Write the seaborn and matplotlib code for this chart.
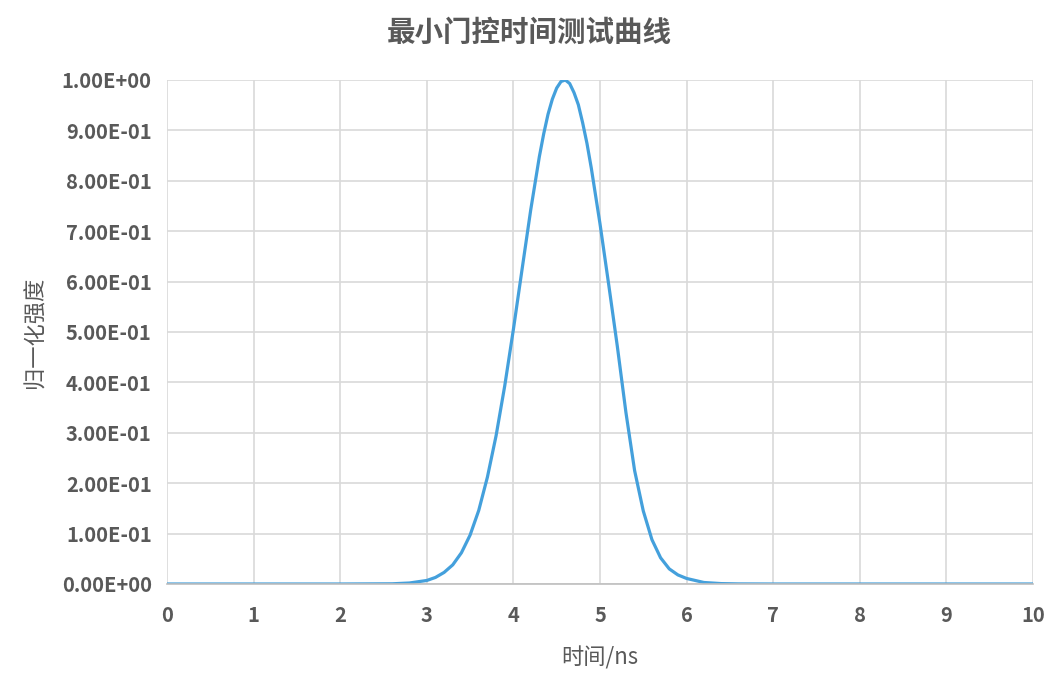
import numpy as np
import pandas as pd
import matplotlib
matplotlib.use('Agg')
import matplotlib.pyplot as plt
from matplotlib.ticker import FuncFormatter, MultipleLocator
import seaborn as sns

# values
time_ns = [0.0, 1.0, 2.0, 2.6, 2.8, 3.0, 3.1, 3.2, 3.3, 3.4, 3.5, 3.6, 3.7, 3.8, 3.9,
           4.0, 4.1, 4.2, 4.3, 4.35, 4.4, 4.45, 4.5, 4.55, 4.6, 4.65, 4.7, 4.75, 4.8,
           4.85, 4.9, 5.0, 5.1, 5.2, 5.3, 5.4, 5.5, 5.6, 5.7, 5.8, 5.9, 6.0, 6.2, 6.4,
           6.6, 7.0, 8.0, 9.0, 10.0]
intensity = [0.0, 0.0, 0.0, 0.0004, 0.002, 0.007, 0.013, 0.023, 0.038, 0.062, 0.097, 0.146,
             0.212, 0.294, 0.393, 0.505, 0.624, 0.742, 0.848, 0.893, 0.932, 0.962, 0.984,
             0.997, 1.0, 0.993, 0.975, 0.951, 0.915, 0.874, 0.825, 0.715, 0.595, 0.472,
             0.34, 0.225, 0.145, 0.088, 0.052, 0.03, 0.018, 0.011, 0.003, 0.0008, 0.0002,
             0.0, 0.0, 0.0, 0.0]
x_ticks = [0, 1, 2, 3, 4, 5, 6, 7, 8, 9, 10]

df = pd.DataFrame({'time': time_ns, 'norm': intensity})

sns.set_theme(style='whitegrid')
plt.rcParams['font.family'] = ['Noto Sans CJK SC', 'DejaVu Sans']

grey = '#595959'
fig = plt.figure(figsize=(10.59, 6.89), dpi=100)
ax = fig.add_axes([0.1577, 0.1524, 0.8177, 0.7315])

sns.lineplot(data=df, x='time', y='norm', ax=ax, color='#44a0dc', linewidth=2.3)

ax.set_xlim(0, 10)
ax.set_ylim(0, 1)
ax.set_xticks(x_ticks)
ax.yaxis.set_major_locator(MultipleLocator(0.1))
ax.yaxis.set_major_formatter(FuncFormatter(lambda v, p: f'{v:.2E}'))

ax.grid(True, color='#d9d9d9', linewidth=1.2)
for s in ['top', 'right', 'left']:
    ax.spines[s].set_visible(False)
ax.spines['bottom'].set_color('#bfbfbf')
ax.spines['bottom'].set_linewidth(1.2)
ax.tick_params(axis='both', length=0, labelsize=14.5, labelcolor=grey)
ax.tick_params(axis='x', pad=15)
ax.tick_params(axis='y', pad=11)
for lab in ax.get_xticklabels() + ax.get_yticklabels():
    lab.set_fontweight('bold')

ax.set_xlabel('时间/ns', fontsize=16, color=grey, va='center')
ax.xaxis.set_label_coords(0.5, -0.147)
ax.set_ylabel('归一化强度', fontsize=16, color=grey, va='center')
ax.yaxis.set_label_coords(-0.152, 0.5)
fig.text(0.5, 0.953, '最小门控时间测试曲线', fontsize=20.5, fontweight='bold',
         color=grey, ha='center', va='center')

fig.savefig('out.png', dpi=100, facecolor='white')
